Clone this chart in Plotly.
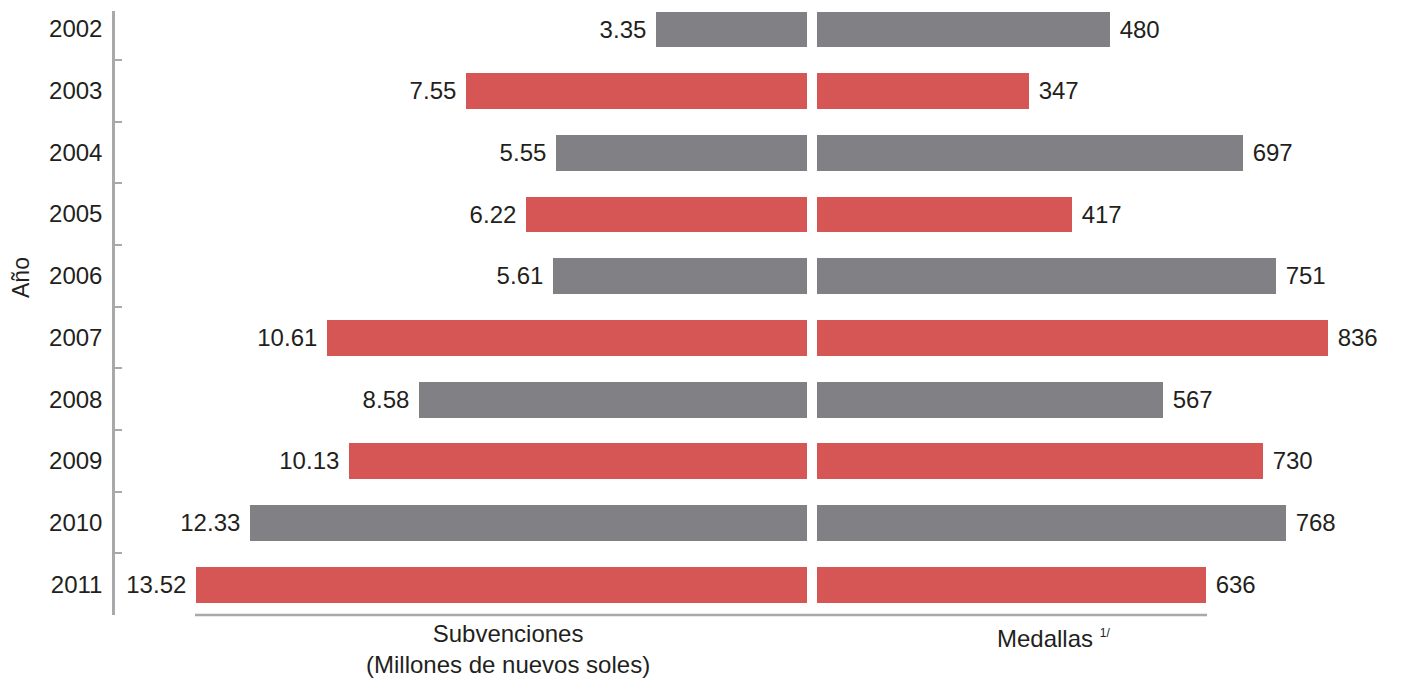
import plotly.graph_objects as go

# data
years = [2002, 2003, 2004, 2005, 2006, 2007, 2008, 2009, 2010, 2011]
subvenciones = [3.35, 7.55, 5.55, 6.22, 5.61, 10.61, 8.58, 10.13, 12.33, 13.52]
medallas = [480, 347, 697, 417, 751, 836, 567, 730, 768, 636]
sub_labels = ["3.35", "7.55", "5.55", "6.22", "5.61", "10.61", "8.58", "10.13", "12.33", "13.52"]
med_labels = [str(v) for v in medallas]

# the page body has an 8px margin, so lay the figure out in page pixels
OFF = 8
W, H = 1428 - OFF, 678 - OFF


def px(x):
    return (x - OFF) / W


def py(y):
    return 1 - (y - OFF) / H


GRAY = "#818185"
RED = "#d65656"
LINE = "#a9a9ac"
TXT = "#231f20"
FONT = "Liberation Sans, Arial, sans-serif"
FS = 24

colors = [GRAY if i % 2 == 0 else RED for i in range(len(years))]
boundaries = [y + 0.5 for y in years[:-1]]

fig = go.Figure()

fig.add_trace(go.Bar(
    y=years, x=subvenciones, orientation="h",
    marker=dict(color=colors, line_width=0), width=0.58,
    text=[s + " " for s in sub_labels], textposition="outside",
    textfont=dict(size=FS, color=TXT, family=FONT),
    cliponaxis=False, constraintext="none",
    xaxis="x", yaxis="y", hoverinfo="skip",
))

fig.add_trace(go.Bar(
    y=years, x=medallas, orientation="h",
    marker=dict(color=colors, line_width=0), width=0.58,
    text=[" " + s for s in med_labels], textposition="outside",
    textfont=dict(size=FS, color=TXT, family=FONT),
    cliponaxis=False, constraintext="none",
    xaxis="x2", yaxis="y2", hoverinfo="skip",
))

yrange = [2011.5, 2001.7]
ydom = [py(615), py(10.5)]

fig.update_layout(
    width=W, height=H,
    margin=dict(l=0, r=0, t=0, b=0, autoexpand=False),
    paper_bgcolor="white", plot_bgcolor="white",
    showlegend=False,
    font=dict(family=FONT, color=TXT),
    xaxis=dict(domain=[px(115), px(807)], range=[15.31, 0], visible=False),
    xaxis2=dict(domain=[px(817), 1], range=[0, 1000], visible=False),
    yaxis=dict(
        domain=ydom, range=yrange, anchor="x", side="left",
        tickmode="array", tickvals=years, ticktext=[str(y) for y in years],
        ticks="", ticklabelstandoff=5,
        tickfont=dict(size=FS, color=TXT, family=FONT),
        showline=True, linecolor=LINE, linewidth=2.5,
        showgrid=False, zeroline=False,
        minor=dict(tickmode="array", tickvals=boundaries, ticks="inside",
                   ticklen=7, tickwidth=2, tickcolor=LINE, showgrid=False),
    ),
    yaxis3=dict(
        domain=ydom, range=yrange, anchor="x", side="left", overlaying="y",
        tickmode="array", tickvals=boundaries, ticks="outside", ticklen=6,
        tickwidth=2, tickcolor=LINE, showticklabels=False,
        showline=False, showgrid=False, zeroline=False,
    ),
    yaxis2=dict(domain=ydom, range=yrange, anchor="x2", visible=False),
    bargap=0,
)

# bottom rule under the bars
fig.add_shape(type="line", xref="paper", yref="paper",
              x0=px(195), x1=px(1207), y0=py(615), y1=py(615),
              line=dict(color=LINE, width=2.5))

fig.add_annotation(x=px(21), y=py(278), xref="paper", yref="paper",
                   xanchor="center", yanchor="middle",
                   text="Año", textangle=-90, showarrow=False,
                   font=dict(size=23, color=TXT))
fig.add_annotation(x=px(508), y=py(649), xref="paper", yref="paper",
                   xanchor="center", yanchor="middle",
                   text="Subvenciones<br>(Millones de nuevos soles)",
                   showarrow=False, align="center",
                   font=dict(size=FS, color=TXT))
fig.add_annotation(x=px(1053), y=py(638), xref="paper", yref="paper",
                   xanchor="center", yanchor="middle",
                   text="Medallas <sup><span style='font-size:12px'>1/</span></sup>",
                   showarrow=False,
                   font=dict(size=FS, color=TXT))

fig.write_html("out.html")
